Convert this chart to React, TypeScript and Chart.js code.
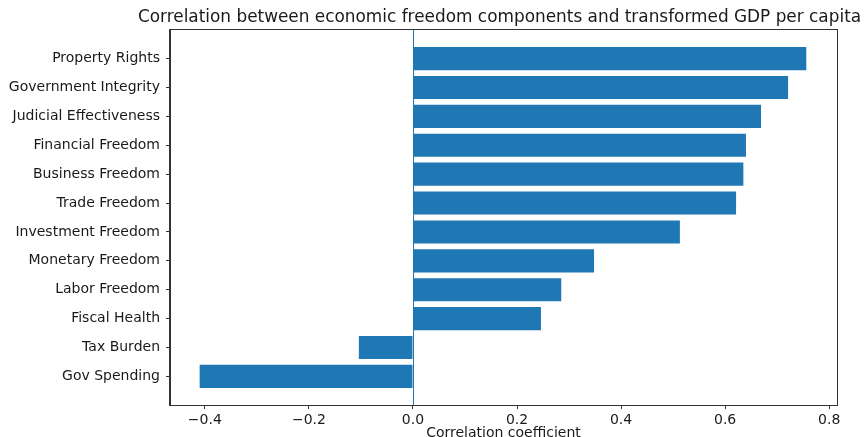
import React, { useEffect, useRef } from 'react';
import { Chart, registerables } from 'chart.js';

Chart.register(...registerables);

const categories = [
  'Property Rights',
  'Government Integrity',
  'Judicial Effectiveness',
  'Financial Freedom',
  'Business Freedom',
  'Trade Freedom',
  'Investment Freedom',
  'Monetary Freedom',
  'Labor Freedom',
  'Fiscal Health',
  'Tax Burden',
  'Gov Spending',
];
const correlations = [0.756, 0.721, 0.669, 0.640, 0.635, 0.621, 0.513, 0.348, 0.285, 0.246, -0.104, -0.410];
const xTicks = [-0.4, -0.2, 0.0, 0.2, 0.4, 0.6, 0.8];
const titleText = 'Correlation between economic freedom components and transformed GDP per capita';
const xLabelText = 'Correlation coefficient';

const FONT = '"DejaVu Sans", sans-serif';
const BAR_COLOR = '#1f77b4';

const fmtTick = (v: number) => (v < 0 ? '\u2212' + Math.abs(v).toFixed(1) : v.toFixed(1));

const decorPlugin = {
  id: 'decor',
  afterDatasetsDraw(chart: any) {
    const { ctx, chartArea, scales } = chart;
    const x0 = Math.round(scales.x.getPixelForValue(0)) + 0.5;
    ctx.save();
    ctx.strokeStyle = BAR_COLOR;
    ctx.lineWidth = 1;
    ctx.beginPath();
    ctx.moveTo(x0, chartArea.top);
    ctx.lineTo(x0, chartArea.bottom);
    ctx.stroke();
    ctx.restore();
  },
  afterDraw(chart: any) {
    const { ctx, chartArea } = chart;
    ctx.save();
    ctx.strokeStyle = '#333';
    ctx.lineWidth = 1;
    ctx.strokeRect(
      Math.round(chartArea.left) - 0.5,
      Math.round(chartArea.top) - 0.5,
      Math.round(chartArea.right - chartArea.left) + 1,
      Math.round(chartArea.bottom - chartArea.top) + 1
    );
    const cx = (chartArea.left + chartArea.right) / 2;
    ctx.fillStyle = '#1a1a1a';
    ctx.textAlign = 'center';
    ctx.textBaseline = 'middle';
    ctx.font = `16.9px ${FONT}`;
    ctx.fillText(titleText, cx - 4, 18);
    ctx.font = `14px ${FONT}`;
    ctx.fillText(xLabelText, cx, 433);
    ctx.restore();
  },
};

export default function App() {
  const canvasRef = useRef<HTMLCanvasElement | null>(null);

  useEffect(() => {
    document.body.style.margin = '0';
    const canvas = canvasRef.current;
    if (!canvas) return;
    const chart = new Chart(canvas, {
      type: 'bar',
      data: {
        datasets: [
          {
            data: correlations.map((v, i) => ({ x: v, y: i })),
            backgroundColor: BAR_COLOR,
            borderWidth: 0,
            barPercentage: 0.8,
            categoryPercentage: 1.0,
          },
        ],
      },
      options: {
        indexAxis: 'y',
        animation: false,
        responsive: false,
        devicePixelRatio: 1,
        layout: { padding: { left: 0, top: 30, right: 29, bottom: 0 } },
        plugins: {
          legend: { display: false },
          title: { display: false },
          tooltip: { enabled: false },
        },
        scales: {
          x: {
            type: 'linear',
            min: -0.467,
            max: 0.815,
            offset: false,
            afterBuildTicks: (axis: any) => {
              axis.ticks = xTicks.map((v) => ({ value: v }));
            },
            afterFit: (axis: any) => {
              axis.height = 32;
            },
            grid: {
              display: true,
              offset: false,
              drawOnChartArea: false,
              drawTicks: true,
              tickLength: 4,
              tickColor: '#333',
            },
            border: { display: true, color: '#333', width: 1 },
            ticks: {
              padding: 3,
              color: '#1a1a1a',
              font: { family: FONT, size: 14 },
              maxRotation: 0,
              autoSkip: false,
              callback: (v: any) => fmtTick(Number(v)),
            },
          },
          y: {
            type: 'linear',
            reverse: true,
            min: -0.99,
            max: 11.99,
            offset: false,
            afterBuildTicks: (axis: any) => {
              axis.ticks = categories.map((_, i) => ({ value: i }));
            },
            afterFit: (axis: any) => {
              axis.width = 170;
            },
            grid: {
              display: true,
              offset: false,
              drawOnChartArea: false,
              drawTicks: true,
              tickLength: 4,
              tickColor: '#333',
            },
            border: { display: true, color: '#333', width: 1 },
            ticks: {
              padding: 6,
              color: '#1a1a1a',
              font: { family: FONT, size: 14 },
              autoSkip: false,
              callback: (v: any) => categories[Number(v)] ?? '',
            },
          },
        },
      },
      plugins: [decorPlugin],
    });
    return () => chart.destroy();
  }, []);

  return (
    <div style={{ position: 'absolute', left: 0, top: 0, width: 866, height: 437, background: '#fff' }}>
      <canvas ref={canvasRef} width={866} height={437} style={{ width: 866, height: 437, display: 'block' }} />
    </div>
  );
}
